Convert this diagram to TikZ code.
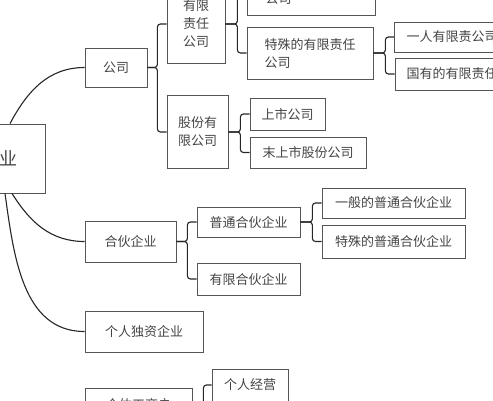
\documentclass[tikz,border=0pt]{standalone}
\usepackage{fontspec}
\newfontfamily\cjk{Noto Sans CJK SC}
\definecolor{inkgray}{HTML}{444444}
\definecolor{boxgray}{HTML}{555555}
\tikzset{
  box/.style={rectangle, draw=boxgray, line width=0.8pt, text=inkgray,
    font=\cjk\fontsize{13}{18}\selectfont, align=left, inner sep=2pt},
  conn/.style={draw=black!85, line width=1.1pt, rounded corners=3pt},
  branch/.style={draw=black!85, line width=1.1pt}
}
\begin{document}
\begin{tikzpicture}[x=1pt, y=1pt]
    \useasboundingbox (0,0) rectangle (493,-400);
    % root
    \node[box, minimum width=90, minimum height=69, font=\cjk\fontsize{18}{22}\selectfont] (qy) at (0,-158.5) {企业};
    % first level
    \node[box, minimum width=62, minimum height=39] (gs) at (116,-67.5) {公司};
    \node[box, minimum width=91, minimum height=41] (hh) at (130.5,-241.5) {合伙企业};
    \node[box, minimum width=118, minimum height=41] (grdz) at (144,-331.5) {个人独资企业};
    \node[box, minimum width=107, minimum height=34] (gtgs) at (138.5,-405) {个体工商户};
    % company
    \node[box, minimum width=58, minimum height=79] (yxzr) at (196,-24) {有限\\责任\\公司};
    \node[box, minimum width=61, minimum height=73] (gfyx) at (197.5,-132) {股份有\\限公司};
    \node[box, minimum width=128, minimum height=52] (ybyx) at (311,11) {一般的有限责任\\公司};
    \node[box, minimum width=126, minimum height=52] (tsyx) at (310,-53) {特殊的有限责任\\公司};
    \node[box, minimum width=115, minimum height=30] (yryx) at (452,-37) {一人有限责公司};
    \node[box, minimum width=140, minimum height=32] (gyyx) at (465,-74) {国有的有限责任公司};
    \node[box, minimum width=75, minimum height=32] (ss) at (287.5,-114) {上市公司};
    \node[box, minimum width=116, minimum height=31] (wss) at (308,-152.5) {末上市股份公司};
    % partnership
    \node[box, minimum width=103, minimum height=30] (pthh) at (248.5,-222) {普通合伙企业};
    \node[box, minimum width=103, minimum height=32] (yxhh) at (248.5,-279) {有限合伙企业};
    \node[box, minimum width=143, minimum height=30] (ybpt) at (393.5,-203) {一般的普通合伙企业};
    \node[box, minimum width=143, minimum height=33] (tspt) at (393.5,-241.5) {特殊的普通合伙企业};
    % individual business
    \node[box, minimum width=76, minimum height=32] (grjy) at (250,-385) {个人经营};
    % curves from root
    \draw[branch] ([xshift=10]qy.north) to[out=62, in=180] (gs.west);
    \draw[branch] ([xshift=12]qy.south) to[out=-58, in=180] (hh.west);
    \draw[branch] ([xshift=5]qy.south) to[out=-82, in=180] (grdz.west);
    % brackets
    \draw[conn] (gs.east) -- ++(10,0) |- (yxzr.west);
    \draw[conn] (gs.east) -- ++(10,0) |- (gfyx.west);
    \draw[conn] (yxzr.east) -- ++(12,0) |- (ybyx.west);
    \draw[conn] (yxzr.east) -- ++(12,0) |- (tsyx.west);
    \draw[conn] (tsyx.east) -- ++(12,0) |- (yryx.west);
    \draw[conn] (tsyx.east) -- ++(12,0) |- (gyyx.west);
    \draw[conn] (gfyx.east) -- ++(12,0) |- (ss.west);
    \draw[conn] (gfyx.east) -- ++(12,0) |- (wss.west);
    \draw[conn] (hh.east) -- ++(11,0) |- (pthh.west);
    \draw[conn] (hh.east) -- ++(11,0) |- (yxhh.west);
    \draw[conn] (pthh.east) -- ++(12,0) |- (ybpt.west);
    \draw[conn] (pthh.east) -- ++(12,0) |- (tspt.west);
    \draw[conn] (gtgs.east) -- ++(11,0) |- (grjy.west);
\end{tikzpicture}
\end{document}
